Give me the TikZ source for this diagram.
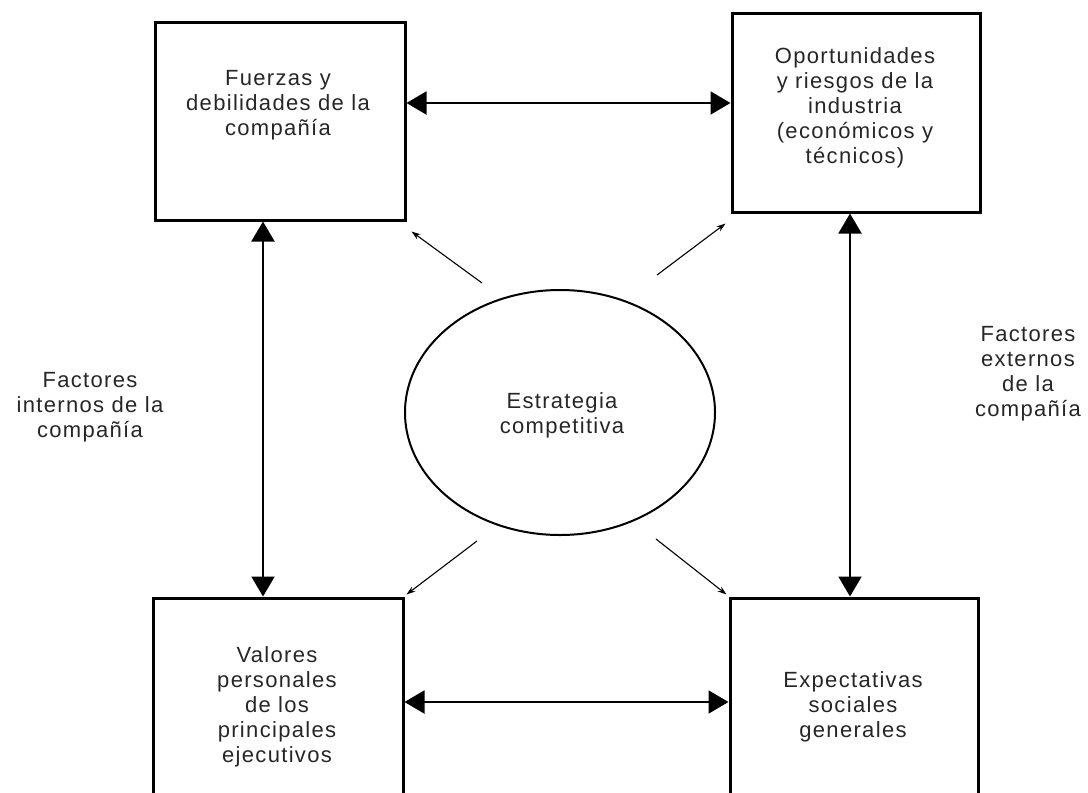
\documentclass[tikz,border=0pt]{standalone}
\usepackage{fontspec}
\setmainfont{Liberation Sans}[LetterSpace=6]
\usetikzlibrary{arrows.meta,shapes.geometric}
\begin{document}
\begin{tikzpicture}[x=1pt,y=-1pt,
  box/.style={draw, line width=3pt, inner sep=0pt},
  lbl/.style={align=center, font=\fontsize{22}{25}\selectfont, text=black!85, inner sep=0pt},
  big/.style={line width=2pt, {Triangle[length=20pt,width=23pt]}-{Triangle[length=20pt,width=23pt]}},
  thinarrow/.style={line width=1.1pt, -{Stealth[length=9pt,width=6pt]}}]
\useasboundingbox (0,0) rectangle (1088,793);
\clip (0,0) rectangle (1088,793);
% boxes
\node[box, minimum width=250pt, minimum height=198pt] (tl) at (280,121) {};
\node[box, minimum width=248pt, minimum height=199pt] (tr) at (856,112.5) {};
\node[box, minimum width=250pt, minimum height=230pt] (bl) at (278,713) {};
\node[box, minimum width=248pt, minimum height=230pt] (br) at (854,713) {};
\node[draw, ellipse, line width=2pt, minimum width=310pt, minimum height=245pt] (e) at (560,412.5) {};
% texts
\node[lbl] (tlt) at (278,105) {Fuerzas y\\debilidades de la\\compañía};
\node[lbl] (trt) at (855,108) {Oportunidades\\y riesgos de la\\industria\\(económicos y\\técnicos)};
\node[lbl] (blt) at (277,707) {Valores\\personales\\de los\\principales\\ejecutivos};
\node[lbl] (brt) at (853,707) {Expectativas\\sociales\\generales};
\node[lbl] (et) at (562,415) {Estrategia\\competitiva};
\node[lbl] (li) at (90,407) {Factores\\internos de la\\compañía};
\node[lbl] (le) at (1028,374) {Factores\\externos\\de la\\compañía};
% double arrows
\coordinate (h1) at (0,103);
\coordinate (h2) at (0,702);
\coordinate (v1) at (263,0);
\coordinate (v2) at (850,0);
\draw[big] (tl.east |- h1) -- (tr.west |- h1);
\draw[big] (bl.east |- h2) -- (br.west |- h2);
\draw[big] (tl.south -| v1) -- (bl.north -| v1);
\draw[big] (tr.south -| v2) -- (br.north -| v2);
% diagonal arrows
\coordinate (d1) at (482,283);
\coordinate (d2) at (657,275);
\coordinate (d3) at (477,541);
\coordinate (d4) at (656,539);
\draw[thinarrow] (d1) -- ([shift={(5pt,-10pt)}]tl.south east);
\draw[thinarrow] (d2) -- ([shift={(-5pt,-10pt)}]tr.south west);
\draw[thinarrow] (d3) -- ([shift={(2pt,2pt)}]bl.north east);
\draw[thinarrow] (d4) -- ([shift={(-2pt,2pt)}]br.north west);
\end{tikzpicture}
\end{document}
